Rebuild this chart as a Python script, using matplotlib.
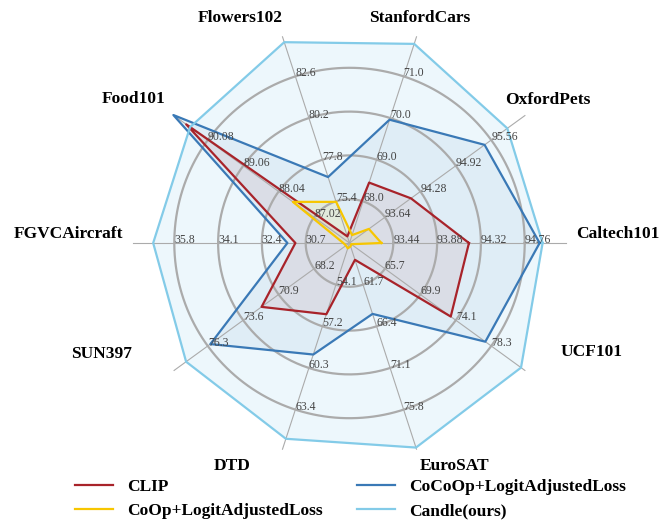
import numpy as np
import matplotlib
matplotlib.use("Agg")
import matplotlib.pyplot as plt
from matplotlib.font_manager import FontProperties

datasets = ["Caltech101", "OxfordPets", "StanfordCars", "Flowers102", "Food101",
            "FGVCAircraft", "SUN397", "DTD", "EuroSAT", "UCF101"]
tick_labels = [
    ["93.44", "93.88", "94.32", "94.76"],
    ["93.64", "94.28", "94.92", "95.56"],
    ["68.0", "69.0", "70.0", "71.0"],
    ["75.4", "77.8", "80.2", "82.6"],
    ["87.02", "88.04", "89.06", "90.08"],
    ["30.7", "32.4", "34.1", "35.8"],
    ["68.2", "70.9", "73.6", "76.3"],
    ["54.1", "57.2", "60.3", "63.4"],
    ["61.7", "66.4", "71.1", "75.8"],
    ["65.7", "69.9", "74.1", "78.3"],
]
clip = [94.20, 94.11, 68.45, 73.38, 90.70, 31.10, 72.20, 56.30, 58.90, 73.50]
coop = [93.32, 93.35, 67.19, 75.37, 87.63, 29.24, 65.77, 51.40, 57.38, 61.70]
cocoop = [94.91, 95.44, 69.96, 76.80, 91.07, 31.41, 76.10, 59.30, 65.00, 77.60]
candle = [94.94, 95.85, 71.78, 84.57, 90.59, 36.62, 77.95, 65.57, 80.08, 81.83]
series_names = ["CLIP", "CoOp+LogitAdjustedLoss", "CoCoOp+LogitAdjustedLoss", "Candle(ours)"]

W, H = 660, 527
fig = plt.figure(figsize=(W / 100, H / 100), dpi=100)

cx, cy, unit = 349.5, 243.0, 43.8
rmax = 5.5
R = rmax * unit
ax = fig.add_axes([(cx - R) / W, (H - cy - R) / H, 2 * R / W, 2 * R / H], projection="polar")
ax.set_ylim(0, rmax)
ax.set_axis_off()

n = len(datasets)
theta = np.deg2rad(np.arange(n) * 36.0)


def to_r(vals):
    out = []
    for v, t in zip(vals, tick_labels):
        t0 = float(t[0])
        st = float(t[1]) - t0
        out.append((v - (t0 - st)) / st)
    return np.array(out)


def closed(a):
    return np.concatenate([a, a[:1]])


serif = "Liberation Serif"
th_c = closed(theta)

# fills
fill_specs = [
    (candle, "#87CEEB", 0.15),
    (cocoop, "#4682B4", 0.08),
    (clip, "#A52A2A", 0.08),
    (coop, "#FFD700", 0.10),
]
for vals, col, a in fill_specs:
    ax.fill(th_c, closed(to_r(vals)), color=col, alpha=a, lw=0, zorder=1)

# grid rings and spokes
tt = np.linspace(0, 2 * np.pi, 400)
for k in range(1, 5):
    ax.plot(tt, np.full_like(tt, k), color="#ababab", lw=1.6, zorder=2)
for th in theta:
    ax.plot([th, th], [0, 4.95], color="#ababab", lw=0.8, zorder=2)

# lines
line_specs = [
    (clip, "#A8232A", series_names[0]),
    (coop, "#F7C600", series_names[1]),
    (cocoop, "#3A79B6", series_names[2]),
    (candle, "#83CBE8", series_names[3]),
]
handles = {}
for vals, col, name in line_specs:
    h, = ax.plot(th_c, closed(to_r(vals)), color=col, lw=1.6, zorder=3, label=name, clip_on=False)
    handles[name] = h

# tick labels along each spoke
for i, th in enumerate(theta):
    for k, lab in enumerate(tick_labels[i], start=1):
        ax.text(th, k, lab, ha="left", va="baseline", fontsize=8.5, color="#444444",
                family=serif, zorder=4)

# axis names
label_pos = {
    "Caltech101": (618, 234), "OxfordPets": (548, 100), "StanfordCars": (420, 18),
    "Flowers102": (240, 18), "Food101": (134, 99), "FGVCAircraft": (68, 234),
    "SUN397": (102, 354), "DTD": (232, 466), "EuroSAT": (455, 466), "UCF101": (592, 352),
}
for name in datasets:
    x, y = label_pos[name]
    fig.text(x / W, 1 - y / H, name, ha="center", va="center", fontsize=12.5,
             fontweight="bold", family=serif)

order = [series_names[0], series_names[1], series_names[2], series_names[3]]
fig.legend([handles[s] for s in order], order, ncol=2, loc="upper left",
           bbox_to_anchor=(75 / W, 1 - 479 / H), frameon=False, borderpad=0,
           borderaxespad=0, handlelength=2.2, handletextpad=0.8, columnspacing=1.95,
           labelspacing=0.45, prop=FontProperties(family=serif, weight="bold", size=12.5))

fig.savefig("out.png", dpi=100)
